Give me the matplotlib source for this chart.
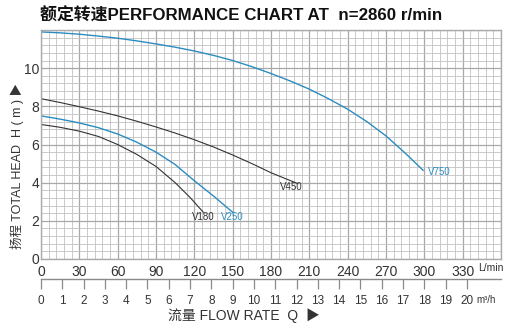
import numpy as np
import matplotlib.pyplot as plt

# pump curves, flow in L/min, head in m
q_v750 = [0, 15, 30, 45, 60, 75, 90, 105, 120, 135, 150, 165, 180, 195, 210, 225, 240, 255, 270, 285, 299]
h_v750 = [11.9, 11.85, 11.78, 11.68, 11.57, 11.43, 11.27, 11.1, 10.9, 10.67, 10.4, 10.08, 9.72, 9.33,
          8.9, 8.4, 7.85, 7.2, 6.45, 5.55, 4.65]

q_v450 = [0, 15, 30, 45, 60, 75, 90, 105, 120, 135, 150, 165, 180, 201]
h_v450 = [8.4, 8.2, 7.98, 7.75, 7.5, 7.22, 6.92, 6.6, 6.25, 5.87, 5.45, 5.0, 4.52, 3.95]

q_v250 = [0, 15, 30, 45, 60, 75, 90, 105, 120, 135, 150]
h_v250 = [7.5, 7.33, 7.13, 6.88, 6.55, 6.12, 5.6, 4.95, 4.1, 3.3, 2.45]

q_v180 = [0, 15, 30, 45, 60, 75, 90, 105, 117, 127]
h_v180 = [7.05, 6.9, 6.7, 6.42, 6.0, 5.48, 4.85, 4.0, 3.2, 2.45]

lpm_ticks = list(range(0, 331, 30))
m3h_ticks = list(range(0, 21))

BLUE = '#2b8cc0'
DARK = '#333333'
FONT = ['Liberation Sans', 'Noto Sans CJK SC', 'DejaVu Sans']

plt.rcParams['font.family'] = FONT

fig = plt.figure(figsize=(5.17, 3.33), dpi=100)
W, H = 517, 333
x0, x1, y0, y1 = 41, 501, 259, 30
ax = fig.add_axes([x0 / W, 1 - y0 / H, (x1 - x0) / W, (y0 - y1) / H])
ax.set_xlim(0, 360)
ax.set_ylim(0, 12)

# grid paper
ax.set_xticks(np.arange(0, 361, 6), minor=True)
ax.set_yticks(np.arange(0, 12.01, 0.4), minor=True)
ax.set_xticks(np.arange(0, 361, 30))
ax.set_xticklabels([str(v) if v in lpm_ticks else '' for v in range(0, 361, 30)])
ax.set_yticks(np.arange(0, 12.01, 2))
ax.set_yticklabels(['0', '2', '4', '6', '8', '10', ''])
ax.grid(which='minor', color='#c2c2c2', lw=0.6)
ax.grid(which='major', color='#a8a8a8', lw=0.9)
ax.set_axisbelow(True)
ax.tick_params(which='both', length=0)
ax.tick_params(axis='x', labelsize=10, pad=4, colors=DARK)
ax.tick_params(axis='y', labelsize=10, pad=1.5, colors=DARK)
for s in ax.spines.values():
    s.set_color('#ababab')
    s.set_linewidth(1.0)

ax.plot(q_v750, h_v750, color=BLUE, lw=1.0)
ax.plot(q_v450, h_v450, color=DARK, lw=0.8)
ax.plot(q_v250, h_v250, color=BLUE, lw=1.0)
ax.plot(q_v180, h_v180, color=DARK, lw=0.8)

ax.text(q_v750[-1] + 4, h_v750[-1] - 0.1, 'V750', color=BLUE, fontsize=7, va='center', ha='left')
ax.text(q_v450[-1] - 5, h_v450[-1] - 0.2, 'V450', color=DARK, fontsize=7, va='center', ha='center')
ax.text(q_v180[-1], h_v180[-1] - 0.25, 'V180', color=DARK, fontsize=7, va='center', ha='center')
ax.text(q_v250[-1], h_v250[-1] - 0.25, 'V250', color=BLUE, fontsize=7, va='center', ha='center')

fig.text(478 / W, 1 - 268 / H, 'L/min', fontsize=7.5, color=DARK, ha='left', va='center')

# second flow scale in m3/h
ax2 = fig.add_axes([x0 / W, 1 - 279 / H, (x1 - x0) / W, 0.0001])
ax2.set_xlim(0, 360 * 60 / 1000)
ax2.set_xticks(m3h_ticks)
ax2.set_xticklabels([str(v) for v in m3h_ticks])
ax2.set_yticks([])
for side in ['top', 'left', 'right']:
    ax2.spines[side].set_visible(False)
ax2.spines['bottom'].set_color('#8a8a8a')
ax2.spines['bottom'].set_linewidth(1.0)
ax2.tick_params(axis='x', length=7.5, width=0.9, color='#8a8a8a', labelsize=8.5,
                labelcolor=DARK, pad=4)
ax2.patch.set_alpha(0)
fig.text(476 / W, 1 - 300 / H, 'm³/h', fontsize=7, color=DARK, ha='left', va='center')

fig.text(244 / W, 1 - 316 / H, '流量 FLOW RATE  Q  ▶', fontsize=10, color=DARK,
         ha='center', va='center', family=FONT)
fig.text(17 / W, 1 - 166 / H, '扬程 TOTAL HEAD  H ( m ) ▶', fontsize=9, color=DARK,
         ha='center', va='center', rotation=90, family=FONT)
fig.text(40 / W, 1 - 16 / H, '额定转速PERFORMANCE CHART AT  n=2860 r/min', fontsize=12.2,
         fontweight='bold', color='#111111', ha='left', va='center', family=FONT)

fig.savefig('out.png', dpi=100)
